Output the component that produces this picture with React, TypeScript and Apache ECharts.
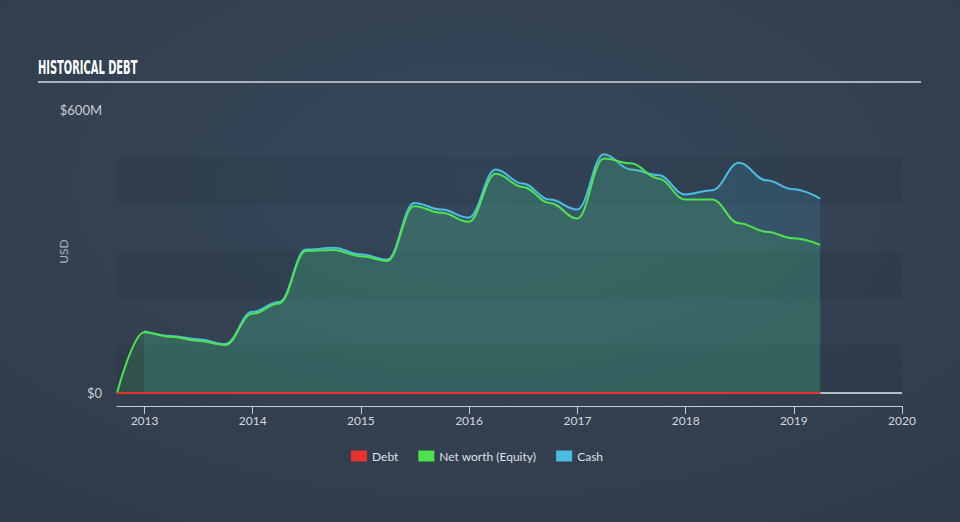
import React, { useEffect, useRef } from "react";
import * as echarts from "echarts";

const dates = [
  "2012-09-30", "2012-12-31", "2013-03-31", "2013-06-30", "2013-09-30",
  "2013-12-31", "2014-03-31", "2014-06-30", "2014-09-30", "2014-12-31",
  "2015-03-31", "2015-06-30", "2015-09-30", "2015-12-31", "2016-03-31",
  "2016-06-30", "2016-09-30", "2016-12-31", "2017-03-31", "2017-06-30",
  "2017-09-30", "2017-12-31", "2018-03-31", "2018-06-30", "2018-09-30",
  "2018-12-31", "2019-03-31",
];
const debt = [0, 0, 0, 0, 0, 0, 0, 0, 0, 0, 0, 0, 0, 0, 0, 0, 0, 0, 0, 0, 0, 0, 0, 0, 0, 0, 0];
const netWorth = [0, 129, 119, 111, 102, 168, 190, 301, 303, 290, 280, 396, 382, 363, 465, 437, 403, 370, 497, 487, 455, 410, 410, 360, 342, 328, 314];
const cash = [null, 131, 121, 114, 104, 172, 193, 304, 308, 294, 283, 403, 389, 372, 474, 444, 410, 389, 506, 474, 462, 421, 430, 488, 451, 432, 412];
const yearTicks = ["2013-01-01", "2014-01-01", "2015-01-01", "2016-01-01", "2017-01-01", "2018-01-01", "2019-01-01", "2020-01-01"];
const xMin = "2012-09-30";
const xMax = "2020-01-01";

const ts = (d: string) => new Date(d + "T00:00:00Z").getTime();
const pairs = (vals: (number | null)[]) =>
  dates.map((d, i) => [ts(d), vals[i]] as [number, number | null]).filter((p) => p[1] !== null);

export default function App() {
  const ref = useRef<HTMLDivElement>(null);
  useEffect(() => {
    document.body.style.margin = "0";
    const chart = echarts.init(ref.current!, undefined, { renderer: "svg" });
    const labelFont = "Lato, 'Open Sans', sans-serif";
    chart.setOption({
      animation: false,
      backgroundColor: new echarts.graphic.RadialGradient(0.5, 0.35, 0.75, [
        { offset: 0, color: "#36475b" },
        { offset: 1, color: "#313c4a" },
      ]),
      graphic: [
        {
          type: "text",
          left: 38,
          top: 57,
          scaleX: 0.55,
          style: {
            text: "HISTORICAL DEBT",
            fill: "#ffffff",
            font: "bold 20px 'Liberation Sans Narrow', 'DejaVu Sans Condensed', sans-serif",
          },
        },
        {
          type: "line",
          shape: { x1: 38, y1: 82, x2: 921, y2: 82 },
          style: { stroke: "#a9b1ba", lineWidth: 2 },
        },
      ],
      grid: { left: 117, right: 58, top: 110, bottom: 129 },
      legend: {
        left: 346,
        top: 445,
        icon: "rect",
        itemWidth: 16,
        itemHeight: 11,
        itemGap: 20,
        textStyle: { color: "#dde1e5", fontSize: 12, fontFamily: labelFont },
        data: ["Debt", "Net worth (Equity)", "Cash"],
      },
      xAxis: {
        type: "value",
        min: ts(xMin),
        max: ts(xMax),
        offset: 13,
        axisLine: { show: true, onZero: false, lineStyle: { color: "#c3ccd6", width: 1 } },
        axisTick: {
          show: true,
          length: 8,
          lineStyle: { color: "#c3ccd6" },
          customValues: yearTicks.map(ts),
        },
        axisLabel: {
          color: "#d3d8dd",
          fontSize: 12,
          fontFamily: labelFont,
          margin: 8,
          customValues: yearTicks.map(ts),
          formatter: (v: number) => String(new Date(v).getUTCFullYear()),
        },
        splitLine: { show: false },
      },
      yAxis: {
        type: "value",
        min: 0,
        max: 600,
        interval: 100,
        name: "USD",
        nameLocation: "middle",
        nameRotate: 90,
        nameGap: 48,
        nameMoveOverlap: false,
        nameTextStyle: { color: "#aab2bb", fontSize: 12, fontFamily: labelFont },
        axisLine: { show: false },
        axisTick: { show: false },
        axisLabel: {
          color: "#c9ced4",
          fontSize: 13,
          fontFamily: labelFont,
          margin: 15,
          formatter: (v: number) => (v === 0 ? "$0" : v === 600 ? "$600M" : ""),
        },
        splitLine: { show: false },
        splitArea: {
          show: true,
          areaStyle: { color: ["rgba(20,28,38,0.1)", "rgba(0,0,0,0)"] },
        },
      },
      series: [
        {
          name: "Cash",
          type: "line",
          data: pairs(cash),
          smooth: 0.4,
          smoothMonotone: "x",
          showSymbol: false,
          symbol: "none",
          lineStyle: { color: "#4bbde3", width: 2 },
          itemStyle: { color: "#4bbde3" },
          areaStyle: { color: "rgba(70,190,232,0.2)" },
          z: 2,
        },
        {
          name: "Net worth (Equity)",
          type: "line",
          data: pairs(netWorth),
          smooth: 0.4,
          smoothMonotone: "x",
          showSymbol: false,
          symbol: "none",
          lineStyle: { color: "#4fe24f", width: 2 },
          itemStyle: { color: "#4fe24f" },
          areaStyle: { color: "rgba(80,222,80,0.2)" },
          z: 3,
        },
        {
          name: "Debt",
          type: "line",
          data: pairs(debt),
          showSymbol: false,
          symbol: "none",
          lineStyle: { color: "#e8322c", width: 2 },
          itemStyle: { color: "#e8322c" },
          z: 5,
          markLine: {
            silent: true,
            symbol: "none",
            label: { show: false },
            lineStyle: { color: "#b4bcc5", width: 2, type: "solid" },
            data: [[{ coord: [ts(dates[dates.length - 1]), 0] }, { coord: [ts(xMax), 0] }]],
          },
        },
      ],
    });
    return () => chart.dispose();
  }, []);
  return <div ref={ref} style={{ width: 960, height: 522 }} />;
}
